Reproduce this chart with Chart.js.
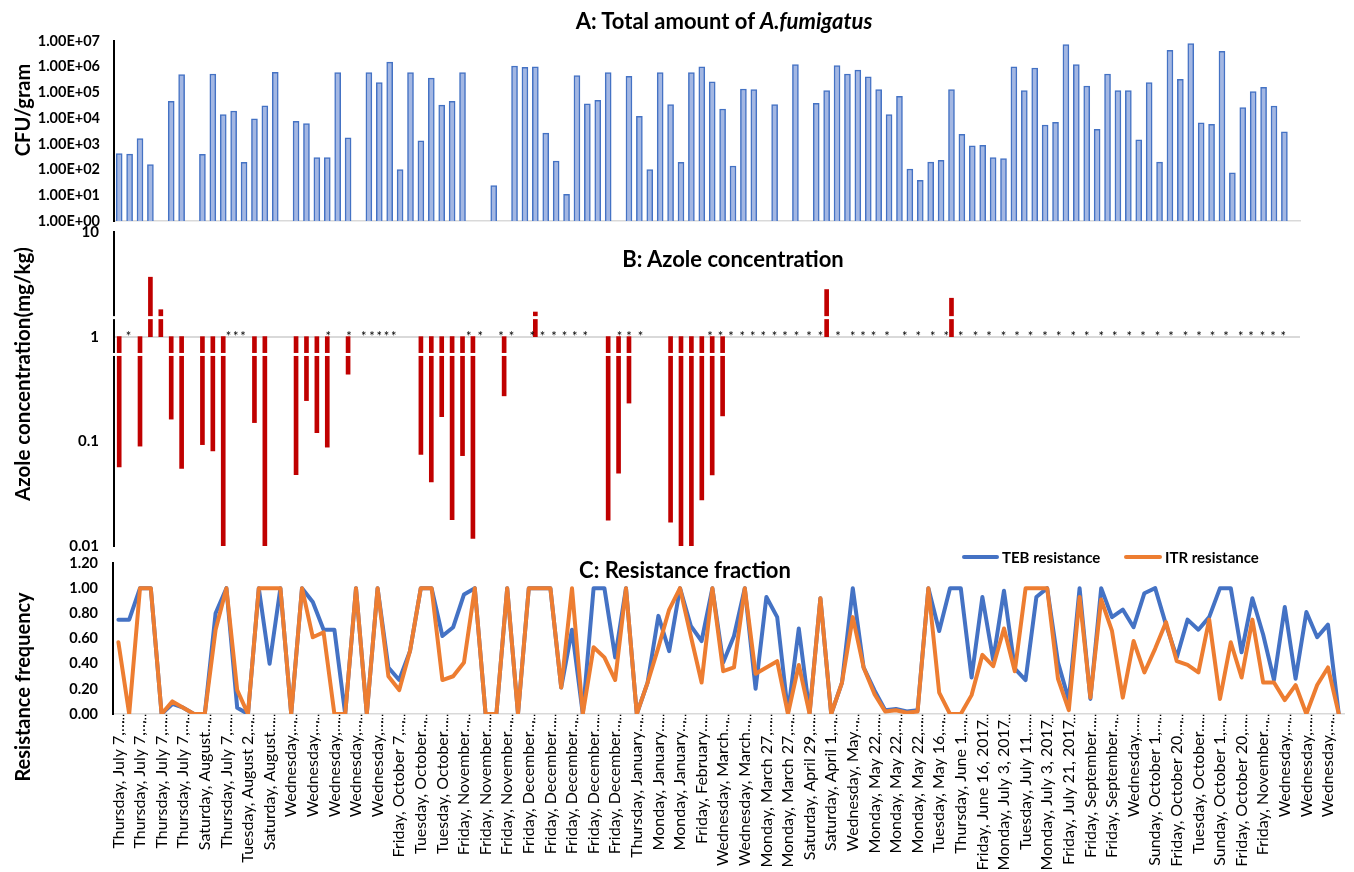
<!DOCTYPE html>
<html>
<head>
<meta charset="utf-8">
<script src="https://cdn.jsdelivr.net/npm/chart.js@4.4.1/dist/chart.umd.min.js"></script>
<style>
  body { margin: 0; background: #fff; }
  #fig { position: relative; width: 1354px; height: 872px; overflow: hidden; font-family: Lato, sans-serif; color: #000; }
  canvas { position: absolute; left: 0; }
  .txt { position: absolute; white-space: nowrap; font-weight: bold; transform: translate(-50%, -50%); z-index: 2; }
  .rot { transform: translate(-50%, -50%) rotate(-90deg); }
  .swatch { position: absolute; height: 4px; border-radius: 2px; z-index: 2; }
  .leg { position: absolute; font-weight: bold; font-size: 15px; white-space: nowrap; z-index: 2; line-height: 20px; }
</style>
</head>
<body>
<div id="fig">
  <div class="txt" style="left:724px;top:20px;font-size:22px">A: Total amount of <i>A.fumigatus</i></div>
  <div class="txt" style="left:733px;top:258px;font-size:22px">B: Azole concentration</div>
  <div class="txt" style="left:685px;top:569px;font-size:22px">C: Resistance fraction</div>
  <div class="txt rot" style="left:22px;top:110px;font-size:20px">CFU/gram</div>
  <div class="txt rot" style="left:22px;top:374px;font-size:20.5px">Azole concentration(mg/kg)</div>
  <div class="txt rot" style="left:22px;top:687px;font-size:20px">Resistance frequency</div>

  <div class="swatch" style="left:962px;top:555px;width:37px;background:#4472c4"></div>
  <div class="leg" style="left:1002px;top:547px">TEB resistance</div>
  <div class="swatch" style="left:1124px;top:555px;width:38px;background:#ed7d31"></div>
  <div class="leg" style="left:1165px;top:547px">ITR resistance</div>

  <canvas id="chartA" width="1354" height="232" style="top:0px"></canvas>
  <canvas id="chartB" width="1354" height="340" style="top:218px"></canvas>
  <canvas id="chartC" width="1354" height="332" style="top:540px"></canvas>
</div>

<script>
// sampling dates, only every second one is printed on the axis
const sampleLabels = [
  'Thursday, July 7,…', 'Thursday, July 7,…', 'Thursday, July 7,…', 'Thursday, July 7,…',
  'Saturday, August…', 'Thursday, July 7,…', 'Tuesday, August 2,…', 'Saturday, August…',
  'Wednesday,…', 'Wednesday,…', 'Wednesday,…', 'Wednesday,…', 'Wednesday,…',
  'Friday, October 7,…', 'Tuesday, October…', 'Tuesday, October…',
  'Friday, November…', 'Friday, November…', 'Friday, November…',
  'Friday, December…', 'Friday, December…', 'Friday, December…', 'Friday, December…', 'Friday, December…',
  'Thursday, January…', 'Monday, January…', 'Monday, January…', 'Friday, February…',
  'Wednesday, March…', 'Wednesday, March…', 'Monday, March 27,…', 'Monday, March 27,…',
  'Saturday, April 29,…', 'Saturday, April 1,…', 'Wednesday, May…',
  'Monday, May 22,…', 'Monday, May 22,…', 'Monday, May 22,…', 'Tuesday, May 16,…',
  'Thursday, June 1,…', 'Friday, June 16, 2017', 'Monday, July 3, 2017', 'Tuesday, July 11,…',
  'Monday, July 3, 2017', 'Friday, July 21, 2017', 'Friday, September…', 'Friday, September…',
  'Wednesday,…', 'Sunday, October 1,…', 'Friday, October 20,…', 'Tuesday, October…',
  'Sunday, October 1,…', 'Friday, October 20,…', 'Friday, November…',
  'Wednesday,…', 'Wednesday,…', 'Wednesday,…'
];

// A: CFU per gram (null = no bar)
const cfuPerGram = [
  420, 400, 1600, 155, null, 45000, 500000, null, 390, 520000,
  13700, 19000, 190, 9500, 30000, 600000, null, 7500, 6100, 290,
  290, 590000, 1700, null, 590000, 240000, 1500000, 100, 590000, 1300,
  360000, 32000, 45000, 590000, null, null, 24, null, 1070000, 950000,
  980000, 2600, 215, 11, 450000, 36000, 49000, 590000, null, 420000,
  11700, 100, 590000, 33500, 190, 590000, 980000, 260000, 22700, 138,
  136000, 128000, null, 33500, null, 1200000, null, 37700, 117000, 1100000,
  520000, 740000, 400000, 128000, 13700, 71000, 105, 38, 196, 229,
  128000, 2340, 830, 875, 290, 265, 980000, 117000, 890000, 5400,
  6900, 7200000, 1200000, 178000, 3650, 520000, 117000, 117000, 1450, 240000,
  196, 4350000, 320000, 7900000, 6500, 5800, 4000000, 74, 25500, 107000,
  158000, 29700, 2960, null
];

// B: azole concentration mg/kg (null = no bar)
const azoleConc = [
  0.057, null, 0.09, 3.7, 1.81, 0.163, 0.055, null, 0.093, 0.081,
  0.01, null, null, 0.151, 0.01, null, null, 0.048, 0.245, 0.121,
  0.088, null, 0.438, null, null, null, null, null, null, 0.075,
  0.041, 0.172, 0.0178, 0.073, 0.0118, null, null, 0.272, null, null,
  1.72, null, null, null, null, null, null, 0.0177, 0.0496, 0.232,
  null, null, null, 0.0169, 0.01, 0.01, 0.0276, 0.0478, 0.175, null,
  null, null, null, null, null, null, null, null, 2.82, null,
  null, null, null, null, null, null, null, null, null, null,
  2.33, null, null, null, null, null, null, null, null, null,
  null, null, null, null, null, null, null, null, null, null,
  null, null, null, null, null, null, null, null, null, null,
  null, null, null, null
];

// B: where the '*' marks sit, in category units
const azoleMarks = [
  0.9, 10.5, 11.2, 11.9, 20.1, 22.1, 23.5, 24.3, 25.0, 25.7, 26.4,
  33.6, 34.7, 36.7, 37.7, 39.7, 40.7, 41.8, 42.8, 43.8, 44.8, 48.1, 49.0, 50.1,
  56.8, 57.8, 58.8, 59.9, 60.9, 61.9, 63.0, 64.0, 65.1, 66.3, 67.4, 69.1,
  70.5, 71.5, 72.5, 73.8, 75.5, 76.8, 78.2, 79.5, 80.9, 82.3, 83.6, 85.0,
  86.3, 87.6, 89.0, 90.3, 91.7, 93.0, 94.4, 95.7, 97.1, 98.4, 99.8, 101.1,
  102.5, 103.8, 105.1, 106.4, 107.8, 108.8, 109.9, 110.9, 111.9
];

// C: resistance fractions
const tebResistance = [
  0.75, 0.75, 1, 1, 0, 0.08, 0.05, 0, 0, 0.8,
  1, 0.05, 0, 1, 0.4, 1, 0, 1, 0.89, 0.67,
  0.67, 0, 1, 0, 1, 0.37, 0.27, 0.5, 1, 1,
  0.62, 0.69, 0.95, 1, 0, 0, 1, 0, 1, 1,
  1, 0.21, 0.67, 0, 1, 1, 0.45, 1, 0, 0.25,
  0.78, 0.5, 1, 0.7, 0.58, 1, 0.41, 0.62, 1, 0.2,
  0.93, 0.77, 0.01, 0.68, 0.01, 0.92, 0, 0.25, 1, 0.37,
  0.19, 0.03, 0.04, 0.02, 0.03, 1, 0.66, 1, 1, 0.29,
  0.93, 0.43, 0.98, 0.36, 0.27, 0.93, 1, 0.41, 0.11, 1,
  0.12, 1, 0.77, 0.83, 0.69, 0.96, 1, 0.71, 0.45, 0.75,
  0.67, 0.77, 1, 1, 0.49, 0.92, 0.63, 0.27, 0.85, 0.28,
  0.81, 0.61, 0.71, 0
];
const itrResistance = [
  0.57, 0, 1, 1, 0, 0.1, 0.05, 0, 0, 0.67,
  1, 0.19, 0, 1, 1, 1, 0, 1, 0.61, 0.65,
  0, 0, 1, 0, 1, 0.3, 0.19, 0.5, 1, 1,
  0.27, 0.3, 0.41, 1, 0, 0, 1, 0, 1, 1,
  1, 0.21, 1, 0, 0.53, 0.45, 0.27, 1, 0, 0.25,
  0.53, 0.83, 1, 0.62, 0.25, 1, 0.34, 0.37, 1, 0.32,
  0.37, 0.42, 0, 0.39, 0, 0.92, 0, 0.25, 0.77, 0.37,
  0.16, 0.02, 0.03, 0.01, 0.02, 1, 0.17, 0, 0, 0.15,
  0.47, 0.38, 0.68, 0.34, 1, 1, 1, 0.28, 0.03, 0.93,
  0.13, 0.91, 0.66, 0.13, 0.58, 0.33, 0.52, 0.73, 0.42, 0.39,
  0.33, 0.75, 0.12, 0.57, 0.29, 0.75, 0.25, 0.25, 0.11, 0.23,
  0, 0.23, 0.37, 0
];

const cfuTicks = [1, 10, 100, 1000, 10000, 100000, 1000000, 10000000];
const azoleTicks = [0.01, 0.1, 1, 10];

// one category per sample, label only on even ones
const categories = cfuPerGram.map((v, i) => i % 2 === 0 ? sampleLabels[i / 2] : '');

Chart.defaults.font.family = 'Lato, sans-serif';
Chart.defaults.color = '#000';

const noLegend = { legend: { display: false }, tooltip: { enabled: false } };

function sci(v) {
  const e = Math.round(Math.log10(v));
  return '1.00E' + (e < 0 ? '-' : '+') + String(Math.abs(e)).padStart(2, '0');
}

// fixed width for the y axis, no extra room for the end labels
function fixY(w) {
  return s => { s.width = w; s.paddingTop = 0; s.paddingBottom = 0; };
}

// A
new Chart(document.getElementById('chartA'), {
  type: 'bar',
  data: {
    labels: categories,
    datasets: [{
      data: cfuPerGram,
      backgroundColor: '#a3b7e3',
      borderColor: '#4472c4',
      borderWidth: 1.5,
      barThickness: 6
    }]
  },
  options: {
    responsive: false,
    animation: false,
    layout: { padding: { top: 41, right: 54, bottom: 11, left: 0 } },
    plugins: noLegend,
    scales: {
      x: {
        offset: true,
        grid: { display: false, drawTicks: false },
        ticks: { display: false },
        border: { color: '#d9d9d9', width: 1.5 },
        afterFit: s => { s.height = 0; }
      },
      y: {
        type: 'logarithmic',
        min: 1,
        max: 10000000,
        afterBuildTicks: s => { s.ticks = cfuTicks.map(v => ({ value: v })); },
        ticks: { callback: v => sci(v), font: { size: 14.5, weight: 'bold' }, padding: 14 },
        grid: { display: false, drawTicks: false },
        border: { color: '#000', width: 2 },
        afterFit: fixY(114)
      }
    }
  }
});

// B: axis breaks + asterisks
const azoleExtras = {
  id: 'azoleExtras',
  afterDraw(chart) {
    const { ctx, chartArea, scales } = chart;
    ctx.save();
    ctx.fillStyle = '#fff';
    [1.52, 0.676].forEach(v => {
      const y = scales.y.getPixelForValue(v);
      ctx.fillRect(chartArea.left - 3, y - 1.5, chartArea.right - chartArea.left + 3, 3);
    });
    ctx.fillStyle = '#000';
    ctx.font = '13px Lato, sans-serif';
    ctx.textAlign = 'center';
    ctx.textBaseline = 'alphabetic';
    const yStar = scales.y.getPixelForValue(1) + 4;
    azoleMarks.forEach(p => ctx.fillText('*', scales.x.getPixelForValue(p), yStar));
    ctx.restore();
  }
};

new Chart(document.getElementById('chartB'), {
  type: 'bar',
  data: {
    labels: categories,
    datasets: [{
      data: azoleConc.map(v => v === null ? null : [1, v]),
      backgroundColor: '#c00000',
      barThickness: 4
    }]
  },
  options: {
    responsive: false,
    animation: false,
    layout: { padding: { top: 14, right: 54, bottom: 12, left: 0 } },
    plugins: noLegend,
    scales: {
      x: { offset: true, display: false },
      y: {
        type: 'logarithmic',
        min: 0.01,
        max: 10,
        afterBuildTicks: s => { s.ticks = azoleTicks.map(v => ({ value: v })); },
        ticks: { callback: v => String(v), font: { size: 15, weight: 'bold' }, padding: 15 },
        grid: {
          drawTicks: false,
          lineWidth: 2,
          color: ctx => ctx.tick && ctx.tick.value === 1 ? '#d9d9d9' : 'rgba(0,0,0,0)'
        },
        border: { color: '#000', width: 2 },
        afterFit: fixY(114)
      }
    }
  },
  plugins: [azoleExtras]
});

// C
new Chart(document.getElementById('chartC'), {
  type: 'line',
  data: {
    labels: categories,
    datasets: [
      { label: 'ITR resistance', data: itrResistance, borderColor: '#ed7d31', order: 0 },
      { label: 'TEB resistance', data: tebResistance, borderColor: '#4472c4', order: 1 }
    ]
  },
  options: {
    responsive: false,
    animation: false,
    layout: { padding: { top: 23, right: 4, bottom: 0, left: 0 } },
    elements: {
      line: { borderWidth: 4, tension: 0, borderJoinStyle: 'round', borderCapStyle: 'round' },
      point: { radius: 0 }
    },
    plugins: noLegend,
    scales: {
      x: {
        offset: true,
        grid: {
          display: true,
          offset: true,
          drawOnChartArea: false,
          drawTicks: true,
          tickLength: 10,
          tickWidth: 1.5,
          tickBorderDash: [1.5, 2],
          tickColor: ctx => ctx.index % 2 === 1 ? '#000' : 'rgba(0,0,0,0)'
        },
        border: { color: '#d9d9d9', width: 1.5 },
        ticks: { autoSkip: false, minRotation: 90, maxRotation: 90, padding: -4, font: { size: 16 } },
        afterFit: s => { s.height = 158; }
      },
      y: {
        min: 0,
        max: 1.2,
        ticks: { stepSize: 0.2, callback: v => v.toFixed(2), font: { size: 14.5, weight: 'bold' }, padding: 15 },
        grid: { display: false, drawTicks: false },
        border: { color: '#000', width: 2 },
        afterFit: fixY(113)
      }
    }
  }
});
</script>
</body>
</html>
